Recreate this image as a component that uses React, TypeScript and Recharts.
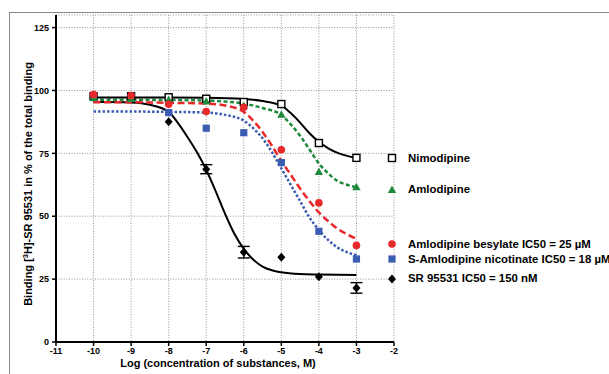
import React from "react";
import {
  CartesianGrid,
  ComposedChart,
  ErrorBar,
  Label,
  Line,
  Scatter,
  XAxis,
  YAxis,
} from "recharts";

const FONT = "'Liberation Sans', Arial, Helvetica, sans-serif";
const RED = "#e8282b";
const BLUE = "#3b5cb2";
const GREEN = "#1f8a3c";
const INK = "#000";

const X_TICKS = [-11, -10, -9, -8, -7, -6, -5, -4, -3, -2];
const Y_TICKS = [0, 25, 50, 75, 100, 125];

// measured points (mean % binding)
const nimodipinePts = [
  { x: -10, y: 97.7 }, { x: -9, y: 97.7 }, { x: -8, y: 97.3 }, { x: -7, y: 96.7 },
  { x: -6, y: 95.4 }, { x: -5, y: 94.6 }, { x: -4, y: 79.1 }, { x: -3, y: 73.2 },
];
const amlodipinePts = [
  { x: -10, y: 97.0 }, { x: -9, y: 96.6 }, { x: -8, y: 96.2 }, { x: -7, y: 95.6 },
  { x: -6, y: 93.8 }, { x: -5, y: 90.3 }, { x: -4, y: 67.6 }, { x: -3, y: 61.5 },
];
const besylatePts = [
  { x: -10, y: 98.4 }, { x: -9, y: 98.0 }, { x: -8, y: 94.5 }, { x: -7, y: 91.6 },
  { x: -6, y: 93.3 }, { x: -5, y: 76.4 }, { x: -4, y: 55.3 }, { x: -3, y: 38.4 },
];
const nicotinatePts = [
  { x: -10, y: 97.2 }, { x: -9, y: 97.1 }, { x: -8, y: 91.2 }, { x: -7, y: 85.0 },
  { x: -6, y: 83.2 }, { x: -5, y: 71.3 }, { x: -4, y: 44.0 }, { x: -3, y: 33.0 },
];
const srPts = [
  { x: -10, y: 97.3, err: 0 }, { x: -9, y: 97.2, err: 0 }, { x: -8, y: 87.6, err: 0 },
  { x: -7, y: 68.7, err: 1.8 }, { x: -6, y: 35.7, err: 2.3 }, { x: -5, y: 33.7, err: 0 },
  { x: -4, y: 25.9, err: 0 }, { x: -3, y: 21.5, err: 2.1 },
];

// fitted curves
const nimodipineFit = [
  { x: -10, y: 97.2 }, { x: -9, y: 97.2 }, { x: -8, y: 97.2 }, { x: -7, y: 97.1 },
  { x: -6, y: 96.6 }, { x: -5.5, y: 95.8 }, { x: -5, y: 94.0 }, { x: -4.75, y: 91.0 },
  { x: -4.5, y: 87.2 }, { x: -4.25, y: 83.0 }, { x: -4, y: 79.6 }, { x: -3.75, y: 77.0 },
  { x: -3.5, y: 75.2 }, { x: -3.25, y: 74.0 }, { x: -3, y: 73.2 },
];
const amlodipineFit = [
  { x: -10, y: 96.3 }, { x: -9, y: 96.3 }, { x: -8, y: 96.2 }, { x: -7, y: 96.0 },
  { x: -6.5, y: 95.6 }, { x: -6, y: 94.8 }, { x: -5.5, y: 93.0 }, { x: -5, y: 90.3 },
  { x: -4.75, y: 86.5 }, { x: -4.5, y: 82.0 }, { x: -4.25, y: 76.5 }, { x: -4, y: 71.0 },
  { x: -3.75, y: 67.0 }, { x: -3.5, y: 64.0 }, { x: -3.25, y: 62.5 }, { x: -3, y: 61.5 },
];
const besylateFit = [
  { x: -10, y: 95.3 }, { x: -9, y: 95.3 }, { x: -8, y: 95.1 }, { x: -7, y: 94.8 },
  { x: -6.5, y: 94.0 }, { x: -6, y: 91.5 }, { x: -5.75, y: 88.0 }, { x: -5.5, y: 83.5 },
  { x: -5.25, y: 78.0 }, { x: -5, y: 72.0 }, { x: -4.75, y: 66.5 }, { x: -4.5, y: 61.0 },
  { x: -4.25, y: 56.0 }, { x: -4, y: 51.5 }, { x: -3.75, y: 48.0 }, { x: -3.5, y: 45.0 },
  { x: -3.25, y: 42.8 }, { x: -3, y: 41.0 },
];
const nicotinateFit = [
  { x: -10, y: 91.6 }, { x: -9, y: 91.6 }, { x: -8, y: 91.5 }, { x: -7, y: 91.2 },
  { x: -6.5, y: 90.3 }, { x: -6, y: 88.0 }, { x: -5.75, y: 85.0 }, { x: -5.5, y: 81.0 },
  { x: -5.25, y: 75.5 }, { x: -5, y: 69.0 }, { x: -4.75, y: 62.5 }, { x: -4.5, y: 56.0 },
  { x: -4.25, y: 49.5 }, { x: -4, y: 44.5 }, { x: -3.75, y: 40.5 }, { x: -3.5, y: 37.5 },
  { x: -3.25, y: 35.7 }, { x: -3, y: 34.5 },
];
const srFit = [
  { x: -10, y: 95.5 }, { x: -9, y: 95.2 }, { x: -8.5, y: 94.3 }, { x: -8, y: 91.5 },
  { x: -7.75, y: 87.0 }, { x: -7.5, y: 81.5 }, { x: -7.25, y: 75.5 }, { x: -7, y: 68.5 },
  { x: -6.75, y: 60.0 }, { x: -6.5, y: 51.0 }, { x: -6.25, y: 43.0 }, { x: -6, y: 37.0 },
  { x: -5.75, y: 32.8 }, { x: -5.5, y: 30.0 }, { x: -5.25, y: 28.5 }, { x: -5, y: 27.7 },
  { x: -4.5, y: 27.0 }, { x: -4, y: 26.8 }, { x: -3, y: 26.6 },
];

type Kind = "openSquare" | "triangle" | "circle" | "square" | "diamond";

function Marker({ cx, cy, kind, color }: { cx: number; cy: number; kind: Kind; color: string }) {
  if (cx == null || cy == null) return null;
  switch (kind) {
    case "openSquare":
      return <rect x={cx - 3.5} y={cy - 3.5} width={7} height={7} fill="#fff" stroke={color} strokeWidth={1.4} />;
    case "triangle":
      return <polygon points={`${cx},${cy - 4.5} ${cx + 4.2},${cy + 3} ${cx - 4.2},${cy + 3}`} fill={color} />;
    case "circle":
      return <circle cx={cx} cy={cy} r={3.8} fill={color} />;
    case "square":
      return <rect x={cx - 3.6} y={cy - 3.6} width={7.2} height={7.2} fill={color} />;
    case "diamond":
      return <polygon points={`${cx},${cy - 4.5} ${cx + 4},${cy} ${cx},${cy + 4.5} ${cx - 4},${cy}`} fill={color} />;
  }
  return null;
}

const shapeOf = (kind: Kind, color: string) => (p: any) => <Marker cx={p.cx} cy={p.cy} kind={kind} color={color} />;

const LEGEND: { label: React.ReactNode; kind: Kind; color: string; top: number; markTop: number }[] = [
  { label: "Nimodipine", kind: "openSquare", color: INK, top: 158, markTop: 158 },
  { label: "Amlodipine", kind: "triangle", color: GREEN, top: 189, markTop: 190 },
  { label: "Amlodipine besylate IC50 = 25 \u00b5M", kind: "circle", color: RED, top: 244, markTop: 244 },
  { label: "S-Amlodipine nicotinate IC50 = 18 \u00b5M", kind: "square", color: BLUE, top: 258.5, markTop: 258.5 },
  { label: "SR 95531 IC50 = 150 nM", kind: "diamond", color: INK, top: 277.5, markTop: 279 },
];

function YTitle() {
  return (
    <text transform="translate(32,184) rotate(-90)" textAnchor="middle" fontFamily={FONT} fontWeight="bold" fontSize={11} fill={INK}>
      Binding [<tspan dy={-4} fontSize={7.5}>3</tspan>
      <tspan dy={4}>H]-SR 95531 in % of the total binding</tspan>
    </text>
  );
}

function XTitle() {
  return (
    <text x={218} y={367} textAnchor="middle" fontFamily={FONT} fontWeight="bold" fontSize={11} fill={INK}>
      Log (concentration of substances, M)
    </text>
  );
}

export default function App() {
  const tick = { fontSize: 9, fontWeight: "bold", fill: INK, fontFamily: FONT };
  return (
    <div style={{ position: "absolute", left: 0, top: 0, width: 609, height: 374, overflow: "hidden", background: "#fff" }}>
      <div style={{ position: "absolute", left: 9, top: 12, width: 800, height: 500, border: "1px solid #8a8a8a" }} />
      <ComposedChart
        width={609}
        height={374}
        margin={{ top: 15, right: 215, bottom: 0, left: 0 }}
        style={{ position: "absolute", left: 0, top: 0 }}
      >
        <CartesianGrid stroke="#8c8c8c" strokeDasharray="1 1.6" strokeWidth={0.9} />
        <XAxis
          dataKey="x"
          type="number"
          domain={[-11, -2]}
          ticks={X_TICKS}
          height={32}
          tick={tick}
          tickSize={4}
          tickMargin={2}
          axisLine={{ stroke: INK, strokeWidth: 2 }}
          tickLine={{ stroke: INK, strokeWidth: 1.5 }}
          interval={0}
          allowDataOverflow
        >
          <Label content={XTitle} />
        </XAxis>
        <YAxis
          dataKey="y"
          type="number"
          domain={[0, 130]}
          ticks={Y_TICKS}
          width={56}
          tick={tick}
          tickSize={4}
          tickMargin={3}
          axisLine={{ stroke: INK, strokeWidth: 2 }}
          tickLine={{ stroke: INK, strokeWidth: 1.5 }}
          interval={0}
          allowDataOverflow
        >
          <Label content={YTitle} />
        </YAxis>

        <Line data={srFit} dataKey="y" type="monotone" stroke={INK} strokeWidth={2} dot={false} isAnimationActive={false} />
        <Line data={nicotinateFit} dataKey="y" type="monotone" stroke={BLUE} strokeWidth={2.5} strokeDasharray="2.5 2" dot={false} isAnimationActive={false} />
        <Line data={besylateFit} dataKey="y" type="monotone" stroke={RED} strokeWidth={2.5} strokeDasharray="7 3.5" dot={false} isAnimationActive={false} />
        <Line data={amlodipineFit} dataKey="y" type="monotone" stroke={GREEN} strokeWidth={2.5} strokeDasharray="4 2.5" dot={false} isAnimationActive={false} />
        <Line data={nimodipineFit} dataKey="y" type="monotone" stroke={INK} strokeWidth={2} dot={false} isAnimationActive={false} />

        <Scatter data={srPts} dataKey="y" fill={INK} shape={shapeOf("diamond", INK)} isAnimationActive={false}>
          <ErrorBar dataKey="err" direction="y" width={6} stroke={INK} strokeWidth={1.4} />
        </Scatter>
        <Scatter data={nicotinatePts} dataKey="y" fill={BLUE} shape={shapeOf("square", BLUE)} isAnimationActive={false} />
        <Scatter data={nimodipinePts} dataKey="y" fill={INK} shape={shapeOf("openSquare", INK)} isAnimationActive={false} />
        <Scatter data={amlodipinePts} dataKey="y" fill={GREEN} shape={shapeOf("triangle", GREEN)} isAnimationActive={false} />
        <Scatter data={besylatePts} dataKey="y" fill={RED} shape={shapeOf("circle", RED)} isAnimationActive={false} />
      </ComposedChart>

      {LEGEND.map((e) => (
        <React.Fragment key={e.kind}>
          <svg width={12} height={12} style={{ position: "absolute", left: 386, top: e.markTop - 6 }}>
            <Marker cx={6} cy={6} kind={e.kind} color={e.color} />
          </svg>
          <div
            style={{
              position: "absolute",
              left: 408,
              top: e.top - 7,
              height: 14,
              lineHeight: "14px",
              fontFamily: FONT,
              fontWeight: "bold",
              fontSize: 11.4,
              color: INK,
              whiteSpace: "nowrap",
            }}
          >
            {e.label}
          </div>
        </React.Fragment>
      ))}
    </div>
  );
}
